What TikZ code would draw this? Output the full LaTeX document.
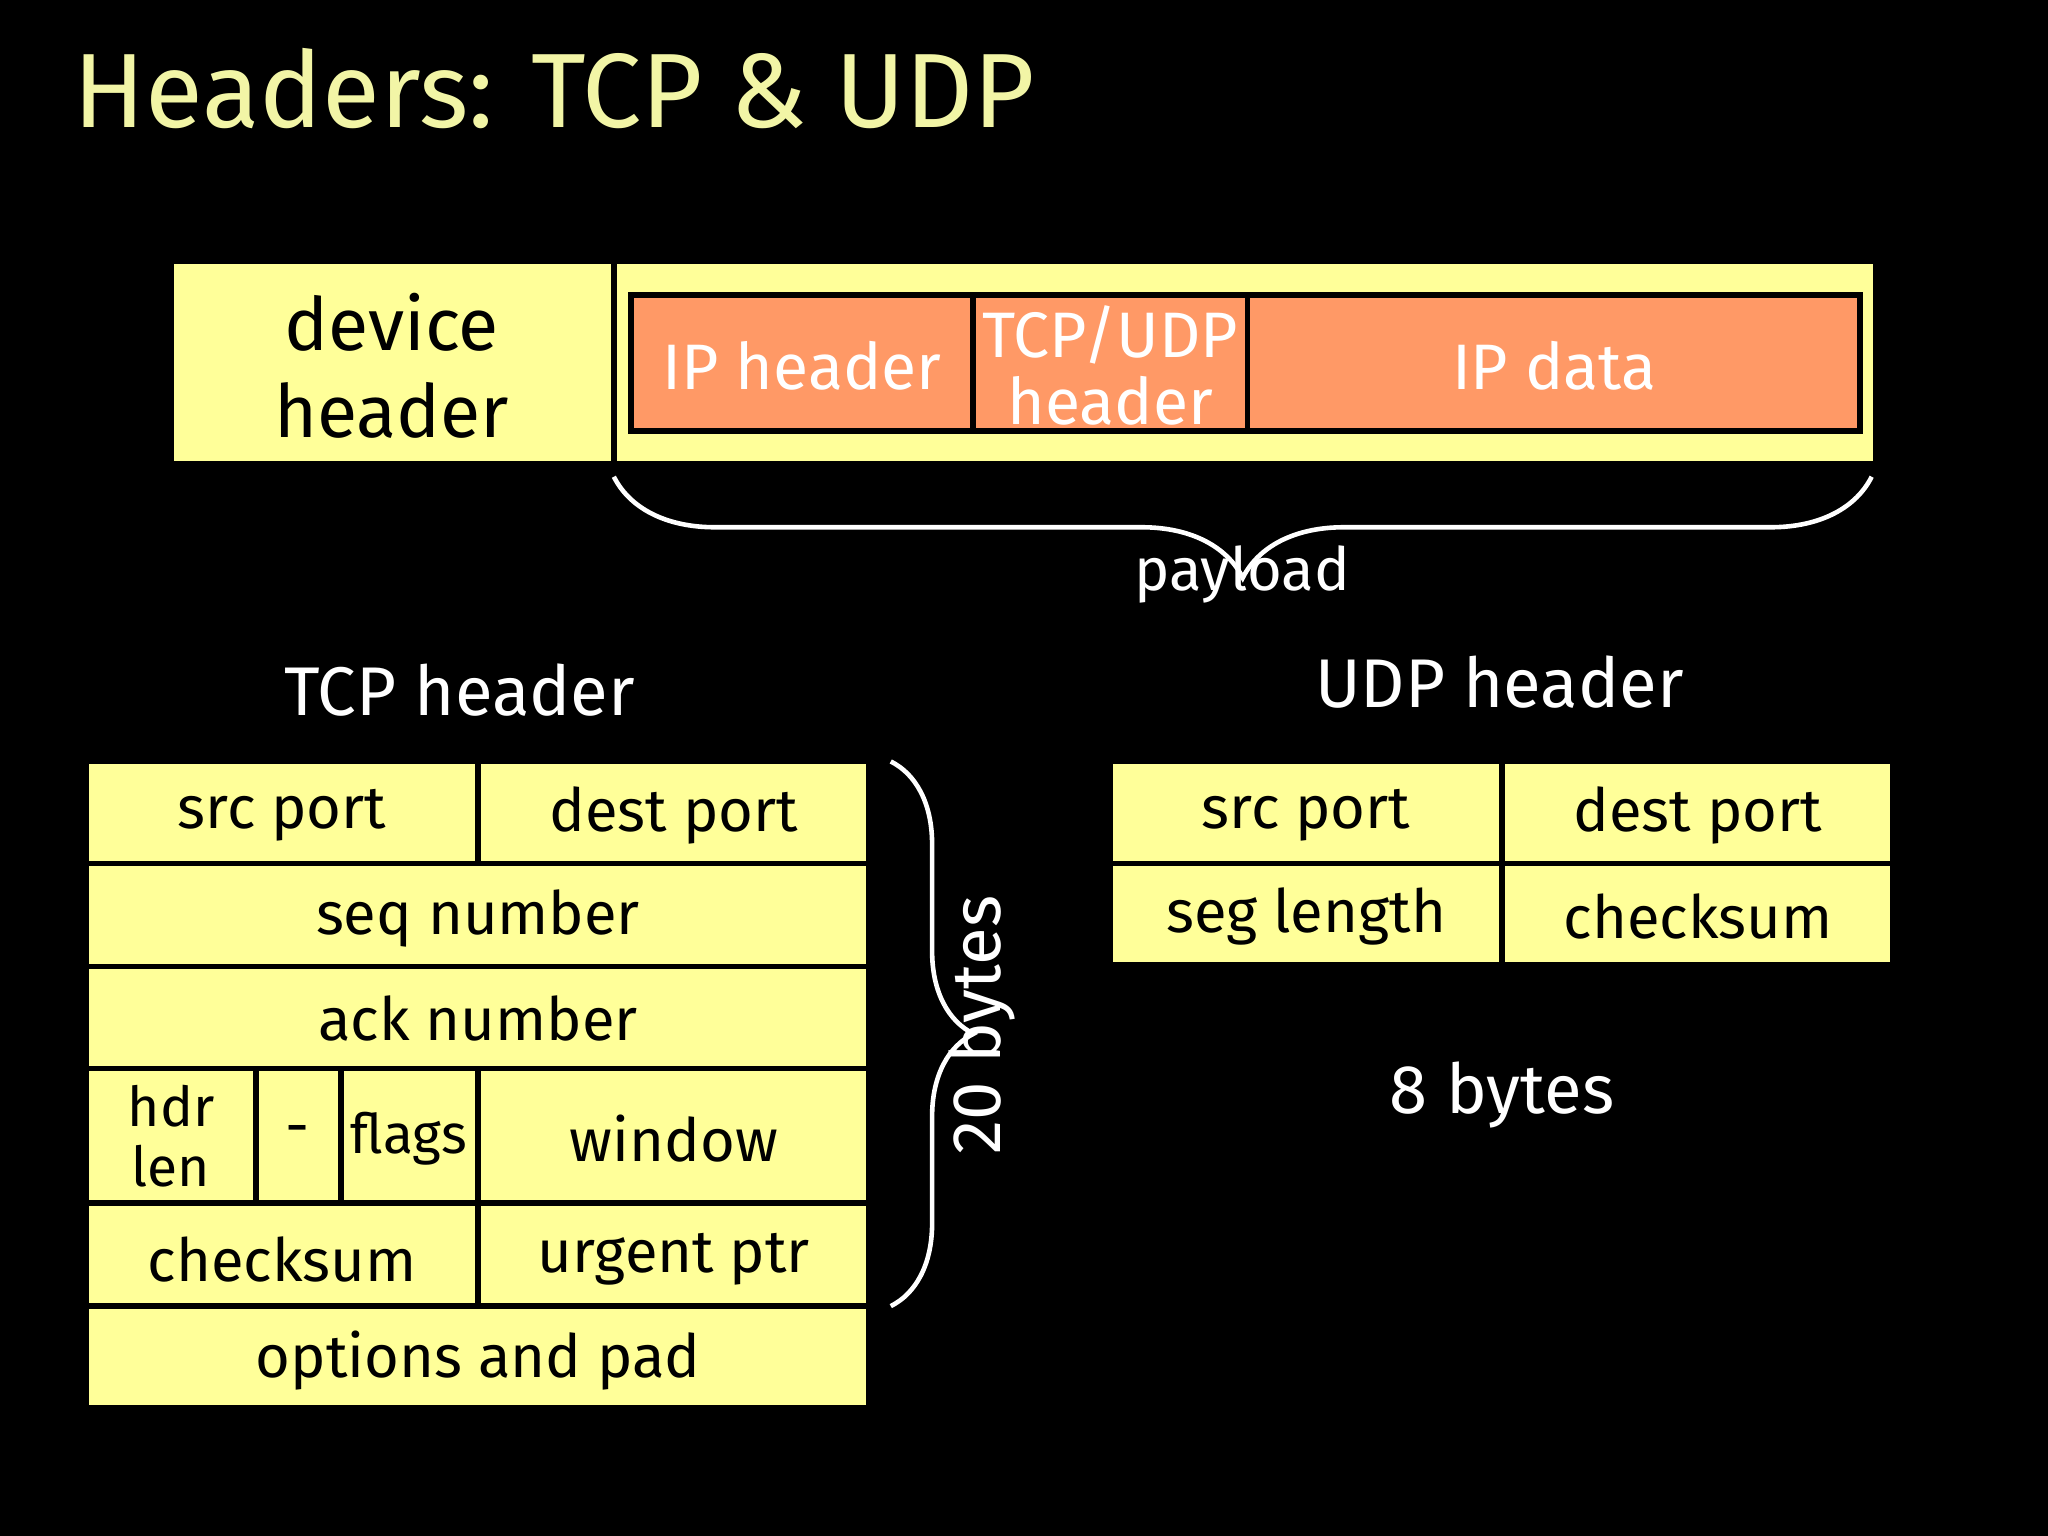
\documentclass[tikz,border=0pt]{standalone}
\usepackage{fontspec}
\setmainfont{Fira Sans}
\usetikzlibrary{decorations.pathreplacing}
\definecolor{ylw}{HTML}{FFFF99}
\definecolor{org}{HTML}{FF9966}
\definecolor{ttl}{HTML}{F2F5A6}
\begin{document}
\begin{tikzpicture}[x=0.01cm,y=-0.01cm,
  cell/.style={draw=black,line width=1.2pt,fill=ylw},
  ocell/.style={draw=black,line width=1.2pt,fill=org},
  lbl/.style={font=\fontsize{13}{15}\selectfont,text=black,align=center},
  wlbl/.style={font=\fontsize{15}{17}\selectfont,text=white},
  br/.style={draw=white,line width=1pt,decorate}]
\fill[black] (0,0) rectangle (1568,1176);
\useasboundingbox (0,0) rectangle (1568,1176);
\node[anchor=west,text=ttl,font=\fontsize{23}{26}\selectfont] (title) at (44,68) {Headers: TCP \& UDP};
% top frame
\draw[cell] (131,200) rectangle (470,355);
\draw[cell] (470,200) rectangle (1436,355);
\node[lbl,font=\fontsize{16}{19}\selectfont] (dev) at (300,280) {device\\header};
\draw[ocell] (483,226) rectangle (745,330);
\draw[ocell] (745,226) rectangle (955,330);
\draw[ocell] (955,226) rectangle (1424,330);
\node[lbl,text=white,font=\fontsize{14}{16}\selectfont] (iph) at (614,280) {IP header};
\node[lbl,text=white,font=\fontsize{14}{14.5}\selectfont] (tuh) at (850,280) {TCP/UDP\\header};
\node[lbl,text=white,font=\fontsize{14}{16}\selectfont] (ipd) at (1190,280) {IP data};
\coordinate (pa) at (1433,365); \coordinate (pb) at (470,365);
\draw[br,decoration={brace,amplitude=22pt}] (pa) -- (pb);
\node[wlbl,font=\fontsize{13}{15}\selectfont] (pay) at (951,440) {payload};
\node[wlbl] (tcph) at (352,528) {TCP header};
\node[wlbl] (udph) at (1148,522) {UDP header};
% TCP table
\draw[cell] (66,583) rectangle (366,661); \node[lbl] at (216,624) {src port};
\draw[cell] (366,583) rectangle (665,661); \node[lbl] at (516,624) {dest port};
\draw[cell] (66,661) rectangle (665,740); \node[lbl] at (366,703) {seq number};
\draw[cell] (66,740) rectangle (665,818); \node[lbl] at (366,780) {ack number};
\draw[cell] (66,818) rectangle (196,921); \node[lbl,font=\fontsize{12}{13}\selectfont] at (131,870) {hdr\\len};
\draw[cell] (196,818) rectangle (261,921); \node[lbl] at (228,870) {-};
\draw[cell] (261,818) rectangle (366,921); \node[lbl,font=\fontsize{12}{13}\selectfont] at (313,872) {flags};
\draw[cell] (366,818) rectangle (665,921); \node[lbl] at (516,872) {window};
\draw[cell] (66,921) rectangle (366,1000); \node[lbl] at (216,964) {checksum};
\draw[cell] (366,921) rectangle (665,1000); \node[lbl] at (516,964) {urgent ptr};
\draw[cell] (66,1000) rectangle (665,1078); \node[lbl] at (366,1042) {options and pad};
\coordinate (ba) at (682,583); \coordinate (bb) at (682,1000);
\draw[br,decoration={brace,amplitude=18pt}] (ba) -- (bb);
\node[wlbl,rotate=90] (b20) at (752,785) {20 bytes};
% UDP table
\draw[cell] (850,583) rectangle (1150,661); \node[lbl] at (1000,624) {src port};
\draw[cell] (1150,583) rectangle (1449,661); \node[lbl] at (1300,624) {dest port};
\draw[cell] (850,661) rectangle (1150,739); \node[lbl] at (1000,702) {seg length};
\draw[cell] (1150,661) rectangle (1449,739); \node[lbl] at (1300,702) {checksum};
\node[wlbl] (b8) at (1150,838) {8 bytes};
\end{tikzpicture}
\end{document}
